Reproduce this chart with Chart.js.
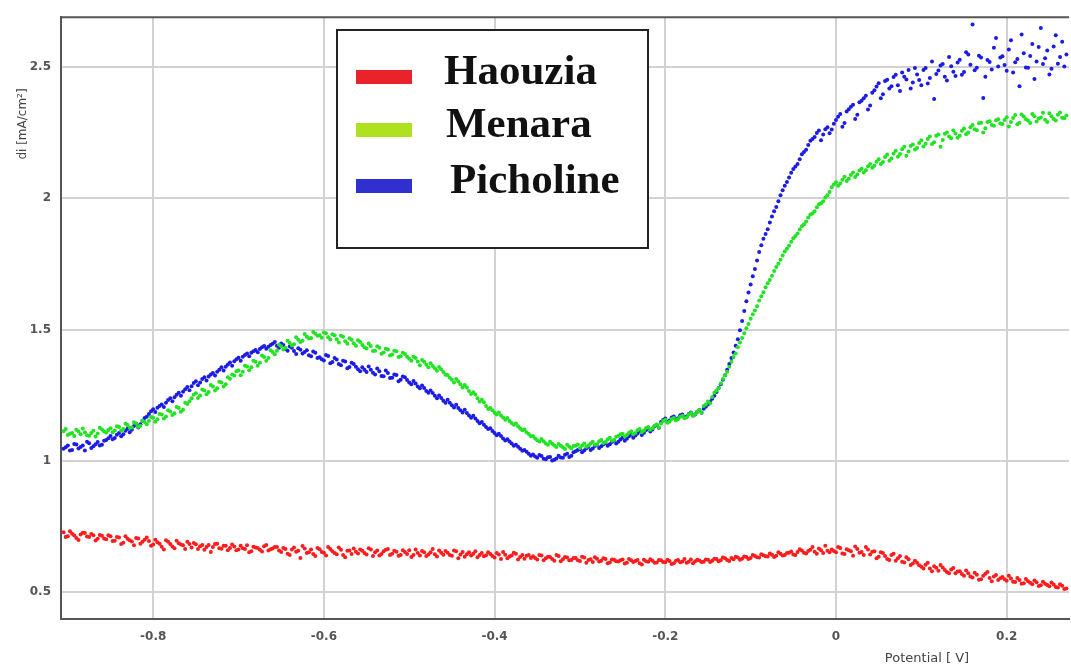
<!DOCTYPE html>
<html>
<head>
<meta charset="utf-8">
<script src="https://cdn.jsdelivr.net/npm/chart.js@4"></script>
<style>
  html, body { margin: 0; padding: 0; background: #fff; }
  #wrap { width: 1071px; height: 668px; }
</style>
</head>
<body>
<div id="wrap"><canvas id="ivChart"></canvas></div>
<script>
// potential sweep [V], first half-step set
const potential = [
  -0.905,-0.900,-0.895,-0.890,-0.885,-0.880,-0.875,-0.870,-0.865,-0.860,
  -0.855,-0.850,-0.845,-0.840,-0.835,-0.830,-0.825,-0.820,-0.815,-0.810,
  -0.805,-0.800,-0.795,-0.790,-0.785,-0.780,-0.775,-0.770,-0.765,-0.760,
  -0.755,-0.750,-0.745,-0.740,-0.735,-0.730,-0.725,-0.720,-0.715,-0.710,
  -0.705,-0.700,-0.695,-0.690,-0.685,-0.680,-0.675,-0.670,-0.665,-0.660,
  -0.655,-0.650,-0.645,-0.640,-0.635,-0.630,-0.625,-0.620,-0.615,-0.610,
  -0.605,-0.600,-0.595,-0.590,-0.585,-0.580,-0.575,-0.570,-0.565,-0.560,
  -0.555,-0.550,-0.545,-0.540,-0.535,-0.530,-0.525,-0.520,-0.515,-0.510,
  -0.505,-0.500,-0.495,-0.490,-0.485,-0.480,-0.475,-0.470,-0.465,-0.460,
  -0.455,-0.450,-0.445,-0.440,-0.435,-0.430,-0.425,-0.420,-0.415,-0.410,
  -0.405,-0.400,-0.395,-0.390,-0.385,-0.380,-0.375,-0.370,-0.365,-0.360,
  -0.355,-0.350,-0.345,-0.340,-0.335,-0.330,-0.325,-0.320,-0.315,-0.310,
  -0.305,-0.300,-0.295,-0.290,-0.285,-0.280,-0.275,-0.270,-0.265,-0.260,
  -0.255,-0.250,-0.245,-0.240,-0.235,-0.230,-0.225,-0.220,-0.215,-0.210,
  -0.205,-0.200,-0.195,-0.190,-0.185,-0.180,-0.175,-0.170,-0.165,-0.160,
  -0.155,-0.150,-0.145,-0.140,-0.135,-0.130,-0.125,-0.120,-0.115,-0.110,
  -0.105,-0.100,-0.095,-0.090,-0.085,-0.080,-0.075,-0.070,-0.065,-0.060,
  -0.055,-0.050,-0.045,-0.040,-0.035,-0.030,-0.025,-0.020,-0.015,-0.010,
  -0.005,0.000,0.005,0.010,0.015,0.020,0.025,0.030,0.035,0.040,
  0.045,0.050,0.055,0.060,0.065,0.070,0.075,0.080,0.085,0.090,
  0.095,0.100,0.105,0.110,0.115,0.120,0.125,0.130,0.135,0.140,
  0.145,0.150,0.155,0.160,0.165,0.170,0.175,0.180,0.185,0.190,
  0.195,0.200,0.205,0.210,0.215,0.220,0.225,0.230,0.235,0.240,
  0.245,0.250,0.255,0.260,0.265,0.270
];

// second set, in between
const potentialB = [
  -0.9025,-0.8975,-0.8925,-0.8875,-0.8825,-0.8775,-0.8725,-0.8675,-0.8625,-0.8575,
  -0.8525,-0.8475,-0.8425,-0.8375,-0.8325,-0.8275,-0.8225,-0.8175,-0.8125,-0.8075,
  -0.8025,-0.7975,-0.7925,-0.7875,-0.7825,-0.7775,-0.7725,-0.7675,-0.7625,-0.7575,
  -0.7525,-0.7475,-0.7425,-0.7375,-0.7325,-0.7275,-0.7225,-0.7175,-0.7125,-0.7075,
  -0.7025,-0.6975,-0.6925,-0.6875,-0.6825,-0.6775,-0.6725,-0.6675,-0.6625,-0.6575,
  -0.6525,-0.6475,-0.6425,-0.6375,-0.6325,-0.6275,-0.6225,-0.6175,-0.6125,-0.6075,
  -0.6025,-0.5975,-0.5925,-0.5875,-0.5825,-0.5775,-0.5725,-0.5675,-0.5625,-0.5575,
  -0.5525,-0.5475,-0.5425,-0.5375,-0.5325,-0.5275,-0.5225,-0.5175,-0.5125,-0.5075,
  -0.5025,-0.4975,-0.4925,-0.4875,-0.4825,-0.4775,-0.4725,-0.4675,-0.4625,-0.4575,
  -0.4525,-0.4475,-0.4425,-0.4375,-0.4325,-0.4275,-0.4225,-0.4175,-0.4125,-0.4075,
  -0.4025,-0.3975,-0.3925,-0.3875,-0.3825,-0.3775,-0.3725,-0.3675,-0.3625,-0.3575,
  -0.3525,-0.3475,-0.3425,-0.3375,-0.3325,-0.3275,-0.3225,-0.3175,-0.3125,-0.3075,
  -0.3025,-0.2975,-0.2925,-0.2875,-0.2825,-0.2775,-0.2725,-0.2675,-0.2625,-0.2575,
  -0.2525,-0.2475,-0.2425,-0.2375,-0.2325,-0.2275,-0.2225,-0.2175,-0.2125,-0.2075,
  -0.2025,-0.1975,-0.1925,-0.1875,-0.1825,-0.1775,-0.1725,-0.1675,-0.1625,-0.1575,
  -0.1525,-0.1475,-0.1425,-0.1375,-0.1325,-0.1275,-0.1225,-0.1175,-0.1125,-0.1075,
  -0.1025,-0.0975,-0.0925,-0.0875,-0.0825,-0.0775,-0.0725,-0.0675,-0.0625,-0.0575,
  -0.0525,-0.0475,-0.0425,-0.0375,-0.0325,-0.0275,-0.0225,-0.0175,-0.0125,-0.0075,
  -0.0025,0.0025,0.0075,0.0125,0.0175,0.0225,0.0275,0.0325,0.0375,0.0425,
  0.0475,0.0525,0.0575,0.0625,0.0675,0.0725,0.0775,0.0825,0.0875,0.0925,
  0.0975,0.1025,0.1075,0.1125,0.1175,0.1225,0.1275,0.1325,0.1375,0.1425,
  0.1475,0.1525,0.1575,0.1625,0.1675,0.1725,0.1775,0.1825,0.1875,0.1925,
  0.1975,0.2025,0.2075,0.2125,0.2175,0.2225,0.2275,0.2325,0.2375,0.2425,
  0.2475,0.2525,0.2575,0.2625,0.2675
];

// di [mA/cm2]
const haouzia = [
  0.728,0.712,0.722,0.706,0.719,0.725,0.709,0.716,0.703,0.714,
  0.701,0.712,0.695,0.708,0.688,0.703,0.692,0.706,0.684,0.699,
  0.694,0.681,0.689,0.672,0.697,0.683,0.667,0.686,0.678,0.691,
  0.669,0.682,0.674,0.661,0.679,0.671,0.684,0.665,0.676,0.668,
  0.673,0.662,0.667,0.678,0.655,0.669,0.661,0.674,0.658,0.666,
  0.671,0.652,0.664,0.641,0.669,0.657,0.675,0.648,0.662,0.637,
  0.663,0.649,0.671,0.655,0.644,0.661,0.632,0.658,0.666,0.647,
  0.657,0.643,0.662,0.651,0.639,0.655,0.664,0.646,0.653,0.641,
  0.652,0.659,0.641,0.648,0.656,0.637,0.651,0.644,0.658,0.642,
  0.649,0.638,0.655,0.643,0.634,0.651,0.646,0.632,0.648,0.640,
  0.645,0.631,0.643,0.652,0.628,0.639,0.646,0.633,0.627,0.641,
  0.636,0.624,0.639,0.628,0.633,0.619,0.637,0.625,0.631,0.622,
  0.629,0.618,0.631,0.622,0.614,0.627,0.619,0.626,0.612,0.623,
  0.616,0.624,0.611,0.621,0.618,0.609,0.623,0.615,0.619,0.612,
  0.621,0.613,0.618,0.609,0.622,0.616,0.611,0.624,0.617,0.620,
  0.615,0.623,0.619,0.626,0.621,0.628,0.618,0.625,0.631,0.627,
  0.633,0.629,0.637,0.631,0.640,0.635,0.642,0.638,0.646,0.641,
  0.649,0.643,0.652,0.658,0.647,0.661,0.653,0.666,0.648,0.657,
  0.662,0.651,0.668,0.645,0.659,0.638,0.664,0.652,0.671,0.643,
  0.655,0.634,0.648,0.626,0.641,0.619,0.637,0.612,0.625,0.608,
  0.611,0.596,0.604,0.589,0.598,0.581,0.593,0.576,0.586,0.571,
  0.579,0.562,0.571,0.555,0.566,0.548,0.569,0.553,0.559,0.546,
  0.557,0.543,0.551,0.538,0.546,0.533,0.541,0.529,0.537,0.526,
  0.531,0.522,0.528,0.517,0.524,0.513
];
const haouziaB = [
  0.709,0.731,0.715,0.698,0.726,0.711,0.721,0.696,0.717,0.704,
  0.716,0.694,0.709,0.683,0.712,0.697,0.678,0.704,0.691,0.708,
  0.676,0.699,0.684,0.662,0.691,0.673,0.695,0.681,0.664,0.683,
  0.687,0.664,0.679,0.671,0.652,0.683,0.667,0.676,0.659,0.681,
  0.659,0.676,0.664,0.651,0.672,0.668,0.654,0.679,0.663,0.671,
  0.658,0.668,0.646,0.662,0.653,0.629,0.666,0.651,0.645,0.668,
  0.652,0.639,0.664,0.648,0.669,0.641,0.657,0.645,0.653,0.662,
  0.648,0.667,0.637,0.658,0.645,0.661,0.641,0.657,0.638,0.659,
  0.645,0.633,0.662,0.639,0.651,0.643,0.664,0.635,0.649,0.656,
  0.641,0.658,0.628,0.652,0.644,0.639,0.655,0.641,0.636,0.651,
  0.637,0.648,0.626,0.642,0.635,0.649,0.624,0.641,0.638,0.629,
  0.629,0.641,0.621,0.634,0.626,0.641,0.617,0.633,0.621,0.629,
  0.621,0.634,0.611,0.625,0.632,0.616,0.628,0.609,0.624,0.617,
  0.621,0.608,0.626,0.614,0.622,0.605,0.617,0.625,0.611,0.622,
  0.614,0.623,0.607,0.619,0.613,0.626,0.615,0.609,0.623,0.614,
  0.624,0.614,0.627,0.617,0.631,0.622,0.629,0.634,0.623,0.635,
  0.626,0.641,0.632,0.644,0.636,0.647,0.633,0.651,0.639,0.648,
  0.654,0.641,0.663,0.649,0.656,0.671,0.646,0.659,0.676,0.651,
  0.656,0.671,0.647,0.663,0.655,0.673,0.649,0.641,0.662,0.653,
  0.628,0.651,0.637,0.622,0.646,0.628,0.615,0.632,0.603,0.619,
  0.602,0.589,0.611,0.579,0.592,0.603,0.584,0.571,0.591,0.578,
  0.568,0.582,0.559,0.573,0.547,0.562,0.576,0.541,0.565,0.552,
  0.548,0.562,0.539,0.553,0.531,0.549,0.535,0.544,0.523,0.539,
  0.527,0.536,0.519,0.529,0.511
];

const menara = [
  1.112,1.098,1.106,1.118,1.101,1.109,1.095,1.114,1.104,1.119,
  1.108,1.124,1.115,1.129,1.121,1.136,1.127,1.142,1.133,1.148,
  1.151,1.164,1.158,1.176,1.169,1.188,1.181,1.201,1.194,1.216,
  1.238,1.257,1.249,1.268,1.262,1.283,1.276,1.298,1.291,1.312,
  1.325,1.344,1.339,1.359,1.356,1.377,1.373,1.395,1.391,1.414,
  1.419,1.436,1.431,1.449,1.444,1.461,1.457,1.472,1.468,1.484,
  1.478,1.489,1.471,1.482,1.463,1.476,1.455,1.467,1.448,1.459,
  1.441,1.428,1.437,1.419,1.431,1.412,1.424,1.405,1.417,1.398,
  1.407,1.389,1.396,1.378,1.384,1.366,1.371,1.352,1.357,1.338,
  1.327,1.309,1.311,1.291,1.289,1.266,1.261,1.238,1.232,1.209,
  1.201,1.183,1.184,1.165,1.163,1.144,1.142,1.123,1.119,1.102,
  1.094,1.078,1.083,1.066,1.072,1.058,1.064,1.051,1.061,1.048,
  1.057,1.049,1.066,1.058,1.072,1.063,1.079,1.071,1.088,1.079,
  1.094,1.103,1.098,1.112,1.106,1.121,1.115,1.129,1.124,1.138,
  1.142,1.156,1.149,1.163,1.158,1.171,1.166,1.182,1.177,1.194,
  1.209,1.226,1.243,1.268,1.294,1.326,1.358,1.395,1.432,1.468,
  1.505,1.541,1.572,1.611,1.642,1.676,1.705,1.738,1.766,1.797,
  1.819,1.848,1.866,1.893,1.912,1.938,1.951,1.977,1.989,2.012,
  2.042,2.061,2.056,2.082,2.074,2.098,2.091,2.113,2.107,2.131,
  2.124,2.149,2.138,2.167,2.152,2.181,2.169,2.196,2.178,2.205,
  2.192,2.221,2.208,2.235,2.214,2.243,2.222,2.251,2.229,2.247,
  2.238,2.266,2.251,2.279,2.259,2.288,2.267,2.294,2.276,2.301,
  2.283,2.309,2.291,2.317,2.288,2.312,2.296,2.321,2.293,2.308,
  2.299,2.324,2.302,2.318,2.307,2.315
];
const menaraB = [
  1.121,1.103,1.094,1.111,1.123,1.097,1.106,1.092,1.126,1.111,
  1.117,1.109,1.131,1.114,1.141,1.126,1.147,1.129,1.152,1.139,
  1.167,1.149,1.178,1.161,1.192,1.174,1.205,1.187,1.221,1.227,
  1.251,1.239,1.271,1.253,1.289,1.268,1.301,1.283,1.318,1.329,
  1.341,1.326,1.362,1.345,1.381,1.362,1.401,1.381,1.421,1.406,
  1.442,1.424,1.457,1.439,1.471,1.452,1.483,1.466,1.491,1.476,
  1.469,1.486,1.462,1.478,1.451,1.472,1.446,1.461,1.438,1.452,
  1.432,1.447,1.418,1.436,1.408,1.427,1.401,1.419,1.395,1.411,
  1.396,1.381,1.391,1.364,1.377,1.356,1.361,1.343,1.349,1.328,
  1.316,1.298,1.302,1.279,1.279,1.254,1.252,1.226,1.223,1.197,
  1.192,1.176,1.172,1.156,1.151,1.137,1.131,1.116,1.109,1.093,
  1.085,1.073,1.074,1.061,1.065,1.052,1.057,1.045,1.053,1.056,
  1.062,1.057,1.053,1.066,1.061,1.074,1.068,1.082,1.076,1.091,
  1.101,1.092,1.107,1.101,1.116,1.109,1.125,1.118,1.133,1.127,
  1.151,1.145,1.159,1.153,1.168,1.162,1.176,1.171,1.188,1.183,
  1.214,1.219,1.259,1.277,1.311,1.339,1.377,1.409,1.451,1.486,
  1.521,1.558,1.589,1.627,1.661,1.689,1.723,1.751,1.782,1.808,
  1.834,1.856,1.881,1.901,1.927,1.942,1.966,1.981,2.003,2.024,
  2.053,2.048,2.071,2.066,2.089,2.081,2.106,2.098,2.122,2.116,
  2.139,2.131,2.157,2.143,2.171,2.158,2.187,2.162,2.199,2.186,
  2.211,2.197,2.226,2.207,2.238,2.196,2.246,2.235,2.258,2.231,
  2.257,2.244,2.271,2.263,2.286,2.251,2.291,2.279,2.297,2.285,
  2.298,2.274,2.306,2.282,2.319,2.301,2.287,2.313,2.304,2.326,
  2.291,2.313,2.296,2.327,2.305
];

const picholine = [
  1.046,1.058,1.041,1.062,1.052,1.039,1.067,1.055,1.071,1.061,
  1.079,1.094,1.087,1.106,1.101,1.122,1.118,1.141,1.139,1.163,
  1.178,1.196,1.202,1.214,1.221,1.238,1.242,1.259,1.263,1.281,
  1.284,1.303,1.298,1.318,1.321,1.334,1.339,1.356,1.358,1.374,
  1.379,1.392,1.396,1.409,1.411,1.422,1.426,1.437,1.434,1.446,
  1.438,1.447,1.426,1.435,1.418,1.429,1.409,1.421,1.398,1.411,
  1.394,1.382,1.399,1.376,1.386,1.364,1.378,1.357,1.369,1.349,
  1.356,1.338,1.347,1.329,1.341,1.322,1.334,1.316,1.327,1.309,
  1.318,1.298,1.304,1.283,1.287,1.266,1.268,1.248,1.249,1.229,
  1.232,1.211,1.213,1.192,1.194,1.172,1.171,1.151,1.148,1.129,
  1.124,1.106,1.103,1.085,1.082,1.066,1.061,1.046,1.041,1.027,
  1.024,1.011,1.018,1.006,1.014,1.004,1.019,1.011,1.027,1.019,
  1.036,1.044,1.039,1.053,1.047,1.061,1.055,1.068,1.063,1.077,
  1.072,1.088,1.084,1.099,1.096,1.112,1.107,1.124,1.119,1.137,
  1.148,1.161,1.153,1.169,1.162,1.176,1.169,1.184,1.176,1.193,
  1.198,1.214,1.236,1.262,1.291,1.326,1.369,1.412,1.463,1.532,
  1.608,1.672,1.731,1.795,1.846,1.882,1.931,1.967,2.012,2.048,
  2.079,2.112,2.131,2.168,2.185,2.219,2.234,2.258,2.243,2.271,
  2.262,2.298,2.321,2.287,2.339,2.356,2.318,2.372,2.391,2.354,
  2.412,2.438,2.396,2.452,2.427,2.471,2.409,2.463,2.489,2.441,
  2.472,2.431,2.496,2.458,2.378,2.487,2.512,2.449,2.503,2.466,
  2.528,2.481,2.548,2.662,2.497,2.536,2.463,2.519,2.574,2.502,
  2.541,2.486,2.602,2.518,2.427,2.553,2.497,2.588,2.521,2.649,
  2.534,2.472,2.578,2.513,2.596,2.548
];
const picholineB = [
  1.051,1.039,1.064,1.047,1.058,1.072,1.049,1.063,1.058,1.076,
  1.086,1.082,1.099,1.093,1.114,1.109,1.132,1.127,1.152,1.168,
  1.189,1.186,1.209,1.205,1.231,1.227,1.251,1.248,1.272,1.269,
  1.296,1.288,1.311,1.306,1.329,1.325,1.347,1.344,1.367,1.362,
  1.387,1.381,1.403,1.398,1.417,1.413,1.432,1.427,1.441,1.452,
  1.431,1.441,1.419,1.431,1.407,1.423,1.414,1.402,1.416,1.391,
  1.387,1.403,1.371,1.391,1.369,1.381,1.352,1.373,1.358,1.341,
  1.347,1.359,1.335,1.351,1.323,1.344,1.315,1.329,1.303,1.321,
  1.308,1.291,1.294,1.276,1.277,1.259,1.258,1.238,1.239,1.221,
  1.221,1.203,1.201,1.184,1.182,1.164,1.161,1.143,1.137,1.121,
  1.113,1.097,1.094,1.077,1.073,1.057,1.053,1.038,1.034,1.019,
  1.016,1.022,1.008,1.013,1.001,1.009,1.012,1.023,1.014,1.032,
  1.041,1.032,1.048,1.041,1.056,1.049,1.063,1.057,1.071,1.066,
  1.081,1.076,1.093,1.088,1.104,1.098,1.117,1.111,1.131,1.126,
  1.155,1.149,1.165,1.158,1.173,1.166,1.178,1.172,1.187,1.183,
  1.206,1.226,1.248,1.277,1.309,1.347,1.391,1.438,1.497,1.571,
  1.641,1.703,1.763,1.821,1.864,1.908,1.951,1.989,2.031,2.062,
  2.097,2.121,2.149,2.176,2.203,2.226,2.249,2.221,2.263,2.248,
  2.284,2.311,2.273,2.331,2.349,2.302,2.366,2.381,2.338,2.402,
  2.426,2.381,2.447,2.418,2.462,2.431,2.479,2.453,2.418,2.496,
  2.451,2.489,2.437,2.521,2.474,2.506,2.463,2.538,2.482,2.517,
  2.471,2.556,2.509,2.488,2.543,2.382,2.527,2.491,2.611,2.536,
  2.508,2.567,2.479,2.531,2.624,2.498,2.542,2.455,2.576,2.512,
  2.563,2.494,2.621,2.538,2.502
];

const seriesNames = ['Haouzia', 'Menara', 'Picholine'];
const xTicks = [-0.8, -0.6, -0.4, -0.2, 0, 0.2];
const yTicks = [0.5, 1, 1.5, 2, 2.5];

const dotColors = ['#ff1c1c', '#22e322', '#1c1ce6'];
const swatchColors = ['#e8242a', '#aee21e', '#3030d0'];

function pts(xs, ys) {
  return xs.map((x, i) => ({ x: x, y: ys[i] }));
}

const seriesData = [
  pts(potential, haouzia).concat(pts(potentialB, haouziaB)),
  pts(potential, menara).concat(pts(potentialB, menaraB)),
  pts(potential, picholine).concat(pts(potentialB, picholineB))
];

// frame top line, boxed legend, axis titles
const decor = {
  id: 'decor',
  afterDraw(chart) {
    const c = chart.ctx;
    const a = chart.chartArea;
    c.save();
    c.strokeStyle = '#555';
    c.lineWidth = 2;
    c.beginPath();
    c.moveTo(a.left - 1, a.top);
    c.lineTo(a.right, a.top);
    c.stroke();

    // legend box
    c.fillStyle = '#fff';
    c.fillRect(337, 30, 311, 218);
    c.strokeStyle = '#222';
    c.lineWidth = 2;
    c.strokeRect(337, 30, 311, 218);
    const rows = [77, 130, 186];
    const textX = [444, 446, 450];
    c.font = 'bold 43px "Liberation Serif"';
    c.textBaseline = 'middle';
    c.textAlign = 'left';
    chart.data.datasets.forEach((ds, i) => {
      c.fillStyle = swatchColors[i];
      c.fillRect(356, rows[i] - 7, 56, 14);
      c.fillStyle = '#111';
      c.fillText(ds.label, textX[i], rows[i] - 4);
    });

    // axis titles
    c.fillStyle = '#444';
    c.font = '13px "DejaVu Sans"';
    c.textAlign = 'center';
    c.textBaseline = 'middle';
    c.fillText(chart.options.scales.x.title.text, 927, 659);
    c.font = '12px "DejaVu Sans"';
    c.translate(23, 124);
    c.rotate(-Math.PI / 2);
    c.fillText(chart.options.scales.y.title.text, 0, 0);
    c.restore();
  }
};

const tickFont = { family: 'DejaVu Sans', size: 12, weight: 'bold' };

new Chart(document.getElementById('ivChart'), {
  type: 'scatter',
  data: {
    datasets: seriesData.map((d, i) => ({
      label: seriesNames[i],
      data: d,
      backgroundColor: dotColors[i],
      borderWidth: 0,
      pointRadius: 2,
      pointHoverRadius: 2
    }))
  },
  options: {
    responsive: true,
    maintainAspectRatio: false,
    animation: false,
    layout: { padding: { top: 13, left: 0, right: 0, bottom: 0 } },
    plugins: {
      legend: { display: false },
      tooltip: { enabled: false }
    },
    scales: {
      x: {
        type: 'linear',
        min: -0.908,
        max: 0.273,
        afterBuildTicks: s => { s.ticks = xTicks.map(v => ({ value: v })); },
        afterFit: s => { s.height = 49; },
        ticks: {
          padding: 11,
          color: '#555',
          font: tickFont,
          callback: v => String(Math.round(v * 10) / 10)
        },
        grid: { color: '#d2d2d2', lineWidth: 2, drawTicks: false },
        border: { display: true, color: '#555', width: 2 },
        title: { display: false, text: 'Potential [ V]' }
      },
      y: {
        min: 0.397,
        max: 2.69,
        afterBuildTicks: s => { s.ticks = yTicks.map(v => ({ value: v })); },
        afterFit: s => { s.width = 61; },
        ticks: {
          padding: 10,
          color: '#555',
          font: tickFont,
          callback: v => String(v)
        },
        grid: { color: '#d2d2d2', lineWidth: 2, drawTicks: false },
        border: { display: true, color: '#555', width: 2 },
        title: { display: false, text: 'di [mA/cm²]' }
      }
    }
  },
  plugins: [decor]
});
</script>
</body>
</html>
